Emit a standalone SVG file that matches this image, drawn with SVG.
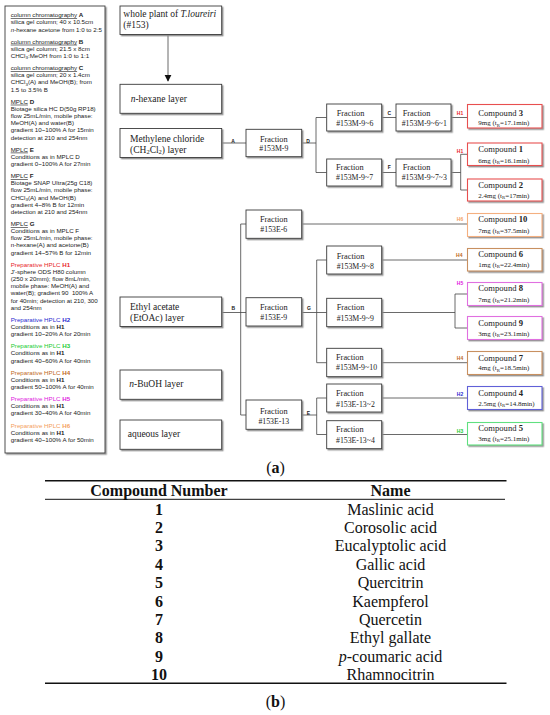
<svg xmlns="http://www.w3.org/2000/svg" width="550" height="715" viewBox="0 0 550 715">
<defs>
<filter id="sh" x="-10%" y="-10%" width="130%" height="140%">
<feDropShadow dx="1.4" dy="1.4" stdDeviation="0.5" flood-color="#8a8a8a" flood-opacity="0.9"/>
</filter>
<marker id="arr" viewBox="0 0 10 10" refX="9" refY="5" markerWidth="7" markerHeight="9" orient="auto" markerUnits="userSpaceOnUse">
<path d="M0,0 L10,5 L0,10 z" fill="#111"/>
</marker>
<style>
.box{fill:#fff;stroke:#3a3a3a;stroke-width:0.9;filter:url(#sh)}
.cb{fill:#fff;stroke-width:1.1;filter:url(#sh)}
.lay{font-family:'Liberation Serif',serif;font-size:9.5px;fill:#222}
.fr{font-family:'Liberation Serif',serif;font-size:8.3px;fill:#222}
.id{font-family:'Liberation Serif',serif;font-size:7.8px;fill:#222}
.c1{font-family:'Liberation Serif',serif;font-size:8.6px;fill:#222}
.c2{font-family:'Liberation Serif',serif;font-size:7px;fill:#222}
.lbl{font-family:'Liberation Sans',sans-serif;font-size:5px;font-weight:bold;text-anchor:middle;fill:#222}
.side{font-family:'Liberation Sans',sans-serif;font-size:6.2px;fill:#222}
.u{text-decoration:underline}
.b{font-weight:bold}
.con{stroke:#444;stroke-width:0.8;fill:none}
.tbl{font-family:'Liberation Serif',serif;font-size:16px;fill:#111;text-anchor:middle}
.red{fill:#e8262a}.blue{fill:#2b2bd0}.green{fill:#22cc33}.brown{fill:#c06a1e}.mag{fill:#e020e0}.org{fill:#f4a060}
</style>
</defs>
<rect width="550" height="715" fill="#fff"/>

<g id="legend">
<rect class="box" x="5" y="6" width="100" height="447"/>
<text class="side" x="10.7">
<tspan x="10.7" y="17.2"><tspan class="u">column chromatography</tspan> <tspan class="b">A</tspan></tspan>
<tspan x="10.7" y="24.4">silica gel column; 40 x 10.5cm</tspan>
<tspan x="10.7" y="31.5"><tspan font-style="italic">n</tspan>-hexane acetone from 1:0 to 2:5</tspan>
<tspan x="10.7" y="43.7"><tspan class="u">column chromatography</tspan> <tspan class="b">B</tspan></tspan>
<tspan x="10.7" y="50.8">silica gel column; 21.5 x 8cm</tspan>
<tspan x="10.7" y="58">CHCl<tspan font-size="4.4" dy="1.2">3</tspan><tspan dy="-1.2">:MeOH from 1:0 to 1:1</tspan></tspan>
<tspan x="10.7" y="70.1"><tspan class="u">column chromatography</tspan> <tspan class="b">C</tspan></tspan>
<tspan x="10.7" y="77.3">silica gel column; 20 x 1.4cm</tspan>
<tspan x="10.7" y="84.4">CHCl<tspan font-size="4.4" dy="1.2">3</tspan><tspan dy="-1.2">(A) and MeOH(B); from</tspan></tspan>
<tspan x="10.7" y="91.6">1.5 to 3.5% B</tspan>
<tspan x="10.7" y="103.7"><tspan class="u">MPLC</tspan> <tspan class="b">D</tspan></tspan>
<tspan x="10.7" y="110.9">Biotage silica HC D(50g RP18)</tspan>
<tspan x="10.7" y="118">flow 25mL/min, mobile phase:</tspan>
<tspan x="10.7" y="125.2">MeOH(A) and water(B)</tspan>
<tspan x="10.7" y="132.3">gradient 10~100% A for 15min</tspan>
<tspan x="10.7" y="139.5">detection at 210 and 254nm</tspan>
<tspan x="10.7" y="151.6"><tspan class="u">MPLC</tspan> <tspan class="b">E</tspan></tspan>
<tspan x="10.7" y="158.8">Conditions as in MPLC D</tspan>
<tspan x="10.7" y="165.9">gradient 0~100% A for 27min</tspan>
<tspan x="10.7" y="178"><tspan class="u">MPLC</tspan> <tspan class="b">F</tspan></tspan>
<tspan x="10.7" y="185.2">Biotage SNAP Ultra(25g C18)</tspan>
<tspan x="10.7" y="192.4">flow 25mL/min, mobile phase:</tspan>
<tspan x="10.7" y="199.5">CHCl<tspan font-size="4.4" dy="1.2">3</tspan><tspan dy="-1.2">(A) and MeOH(B)</tspan></tspan>
<tspan x="10.7" y="206.7">gradient 4~8% B for 12min</tspan>
<tspan x="10.7" y="213.8">detection at 210 and 254nm</tspan>
<tspan x="10.7" y="226"><tspan class="u">MPLC</tspan> <tspan class="b">G</tspan></tspan>
<tspan x="10.7" y="233.1">Conditions as in MPLC F</tspan>
<tspan x="10.7" y="240.3">flow 25mL/min, mobile phase:</tspan>
<tspan x="10.7" y="247.4">n-hexane(A) and acetone(B)</tspan>
<tspan x="10.7" y="254.6">gradient 14~57% B for 12min</tspan>
<tspan x="10.7" y="266.7" class="red">Preparative HPLC <tspan class="b">H1</tspan></tspan>
<tspan x="10.7" y="273.9">J'-sphere ODS H80 column</tspan>
<tspan x="10.7" y="281">(250 x 20mm); flow 8mL/min,</tspan>
<tspan x="10.7" y="288.2">mobile phase: MeOH(A) and</tspan>
<tspan x="10.7" y="295.3">water(B); gradient 90&#160;&#160;100% A</tspan>
<tspan x="10.7" y="302.5">for 40min; detection at 210, 300</tspan>
<tspan x="10.7" y="309.6">and 254nm</tspan>
<tspan x="10.7" y="321.8" class="blue">Preparative HPLC <tspan class="b">H2</tspan></tspan>
<tspan x="10.7" y="328.9">Conditions as in <tspan class="b">H1</tspan></tspan>
<tspan x="10.7" y="336.1">gradient 10~20% A for 20min</tspan>
<tspan x="10.7" y="348.2" class="green">Preparative HPLC <tspan class="b">H3</tspan></tspan>
<tspan x="10.7" y="355.4">Conditions as in <tspan class="b">H1</tspan></tspan>
<tspan x="10.7" y="362.5">gradient 40~60% A for 40min</tspan>
<tspan x="10.7" y="374.7" class="brown">Preparative HPLC <tspan class="b">H4</tspan></tspan>
<tspan x="10.7" y="381.8">Conditions as in <tspan class="b">H1</tspan></tspan>
<tspan x="10.7" y="389">gradient 50~100% A for 40min</tspan>
<tspan x="10.7" y="401.1" class="mag">Preparative HPLC <tspan class="b">H5</tspan></tspan>
<tspan x="10.7" y="408.3">Conditions as in <tspan class="b">H1</tspan></tspan>
<tspan x="10.7" y="415.4">gradient 30~40% A for 40min</tspan>
<tspan x="10.7" y="427.6" class="org">Preparative HPLC <tspan class="b">H6</tspan></tspan>
<tspan x="10.7" y="434.7">Conditions as in <tspan class="b">H1</tspan></tspan>
<tspan x="10.7" y="441.9">gradient 40~100% A for 50min</tspan>
</text>
</g>

<g id="connectors">
<line class="con" x1="168" y1="34.5" x2="168" y2="81" stroke="#111" marker-end="url(#arr)"/>
<path class="con" d="M221.7,143 H246 M301.7,143 H316 M316,117.5 V172.5 M316,117.5 H326.7 M316,172.5 H326.7"/>
<path class="con" d="M381.7,117.5 H396 M451,117.5 H467.5"/>
<path class="con" d="M381.7,172.5 H396 M451,172.5 H460.7 M460.7,154.3 V190 M460.7,154.3 H467.5 M460.7,190 H467.5"/>
<path class="con" d="M221.7,312.5 H246 M240.7,224 V415 M240.7,224 H246 M240.7,415 H246"/>
<path class="con" d="M301.7,224 H467.5"/>
<path class="con" d="M301.7,312.5 H316.7 M316.7,260 V362.7 M316.7,260 H326.7 M316.7,312.5 H326.7 M316.7,362.7 H326.7"/>
<path class="con" d="M381.7,260 H467.5 M381.7,312.5 H455 M455,294 V328 M455,294 H467.5 M455,328 H467.5 M381.7,362.7 H467.5"/>
<path class="con" d="M301.7,415 H316.7 M316.7,398 V434.5 M316.7,398 H326.7 M316.7,434.5 H326.7"/>
<path class="con" d="M381.7,398 H467.5 M381.7,434.5 H467.5"/>
<text class="lbl" x="233" y="143">A</text>
<text class="lbl" x="308" y="143">D</text>
<text class="lbl" x="389.3" y="115.3">C</text>
<text class="lbl" x="389.3" y="169.3">F</text>
<text class="lbl" x="233.3" y="309.5">B</text>
<text class="lbl" x="309" y="309.5">G</text>
<text class="lbl" x="308.3" y="414.5">E</text>
<text class="lbl red" x="460" y="115.3">H1</text>
<text class="lbl red" x="460" y="152.5">H1</text>
<text class="lbl org" x="460" y="221">H6</text>
<text class="lbl brown" x="459.3" y="257">H4</text>
<text class="lbl mag" x="460" y="285.3">H5</text>
<text class="lbl brown" x="460" y="359.7">H4</text>
<text class="lbl blue" x="460" y="396">H2</text>
<text class="lbl green" x="460" y="433">H3</text>
</g>

<g id="plant">
<rect class="box" x="120" y="6" width="101.7" height="28.5"/>
<text class="lay" x="123.3" y="17.3">whole plant of <tspan font-style="italic">T.loureiri</tspan></text>
<text class="lay" x="123.3" y="28.3">(#153)</text>
</g>
<g id="hexane">
<rect class="box" x="120" y="84.3" width="101.7" height="29"/>
<text class="lay" x="130.7" y="102"><tspan font-style="italic">n</tspan>-hexane layer</text>
</g>
<g id="ch2cl2">
<rect class="box" x="120" y="128.5" width="101.7" height="29"/>
<text class="lay" x="130" y="141.5">Methylene chloride</text>
<text class="lay" x="130" y="152.5">(CH<tspan font-size="6.5" dy="1.5">2</tspan><tspan dy="-1.5">Cl</tspan><tspan font-size="6.5" dy="1.5">2</tspan><tspan dy="-1.5">) layer</tspan></text>
</g>
<g id="etoac">
<rect class="box" x="120" y="297" width="101.7" height="29.5"/>
<text class="lay" x="130" y="310">Ethyl acetate</text>
<text class="lay" x="130" y="320.7">(EtOAc) layer</text>
</g>
<g id="buoh">
<rect class="box" x="120" y="370" width="101.7" height="29.3"/>
<text class="lay" x="129.3" y="386.7"><tspan font-style="italic">n</tspan>-BuOH layer</text>
</g>
<g id="aqueous">
<rect class="box" x="120" y="420" width="101.7" height="29.3"/>
<text class="lay" x="127.7" y="437">aqueous layer</text>
</g>

<g id="f153M-9">
<rect class="box" x="246" y="129.3" width="55.7" height="27.4"/>
<text class="fr" x="273.8" y="142.3" text-anchor="middle">Fraction</text>
<text class="id" x="273.8" y="151.3" text-anchor="middle">#153M-9</text>
</g>
<g id="f153E-6">
<rect class="box" x="246" y="210" width="55.7" height="28.3"/>
<text class="fr" x="273.8" y="222.3" text-anchor="middle">Fraction</text>
<text class="id" x="273.8" y="232.3" text-anchor="middle">#153E-6</text>
</g>
<g id="f153E-9">
<rect class="box" x="246" y="297.7" width="55.7" height="28.3"/>
<text class="fr" x="273.8" y="310.3" text-anchor="middle">Fraction</text>
<text class="id" x="273.8" y="320.3" text-anchor="middle">#153E-9</text>
</g>
<g id="f153E-13">
<rect class="box" x="246" y="400" width="55.7" height="29.3"/>
<text class="fr" x="273.8" y="413.7" text-anchor="middle">Fraction</text>
<text class="id" x="273.8" y="424" text-anchor="middle">#153E-13</text>
</g>

<g id="f153M-9-6">
<rect class="box" x="326.7" y="104" width="55" height="27"/>
<text class="fr" x="336.7" y="115.7">Fraction</text>
<text class="id" x="336.2" y="126.3">#153M-9~6</text>
</g>
<g id="f153M-9-6-1">
<rect class="box" x="396" y="104" width="55" height="27"/>
<text class="fr" x="402.7" y="115.7">Fraction</text>
<text class="id" x="401.7" y="126.3">#153M-9~6~1</text>
</g>
<g id="f153M-9-7">
<rect class="box" x="326.7" y="159" width="55" height="27"/>
<text class="fr" x="336" y="169.7">Fraction</text>
<text class="id" x="336" y="180.3">#153M-9~7</text>
</g>
<g id="f153M-9-7-3">
<rect class="box" x="396" y="159" width="55" height="27"/>
<text class="fr" x="402.7" y="169.7">Fraction</text>
<text class="id" x="401.7" y="180.3">#153M-9~7~3</text>
</g>
<g id="f153M-9-8">
<rect class="box" x="326.7" y="246" width="55" height="28"/>
<text class="fr" x="336.7" y="259">Fraction</text>
<text class="id" x="336.7" y="269">#153M-9~8</text>
</g>
<g id="f153M-9-9">
<rect class="box" x="326.7" y="298.3" width="55" height="28.4"/>
<text class="fr" x="336.7" y="310.3">Fraction</text>
<text class="id" x="336.7" y="321.3">#153M-9~9</text>
</g>
<g id="f153M-9-10">
<rect class="box" x="326.7" y="348.3" width="55" height="28.4"/>
<text class="fr" x="336" y="360.3">Fraction</text>
<text class="id" x="336" y="370.3">#153M-9~10</text>
</g>
<g id="f153E-13-2">
<rect class="box" x="326.7" y="384" width="55" height="28"/>
<text class="fr" x="336" y="396.3">Fraction</text>
<text class="id" x="336" y="407">#153E-13~2</text>
</g>
<g id="f153E-13-4">
<rect class="box" x="326.7" y="420.7" width="55" height="28"/>
<text class="fr" x="336" y="432.3">Fraction</text>
<text class="id" x="336" y="443">#153E-13~4</text>
</g>

<g id="cpd3">
<rect class="cb" x="467.5" y="104.5" width="74.5" height="23.5" stroke="#e85050"/>
<text class="c1" x="478.3" y="115.7">Compound <tspan class="b">3</tspan></text>
<text class="c2" x="478.3" y="125.2">9mg (t<tspan font-size="4.8" dy="1.3">R</tspan><tspan dy="-1.3">=17.1min)</tspan></text>
</g>
<g id="cpd1">
<rect class="cb" x="467.5" y="143" width="74.5" height="22.5" stroke="#e85050"/>
<text class="c1" x="478.3" y="152.3">Compound <tspan class="b">1</tspan></text>
<text class="c2" x="478.3" y="162.5">6mg (t<tspan font-size="4.8" dy="1.3">R</tspan><tspan dy="-1.3">=16.1min)</tspan></text>
</g>
<g id="cpd2">
<rect class="cb" x="467.5" y="179" width="74.5" height="22" stroke="#e85050"/>
<text class="c1" x="478.3" y="188">Compound <tspan class="b">2</tspan></text>
<text class="c2" x="478.3" y="197.8">2.4mg (t<tspan font-size="4.8" dy="1.3">R</tspan><tspan dy="-1.3">=17min)</tspan></text>
</g>
<g id="cpd10">
<rect class="cb" x="467.5" y="213.5" width="74.5" height="23" stroke="#f4b080"/>
<text class="c1" x="478.3" y="222.3">Compound <tspan class="b">10</tspan></text>
<text class="c2" x="478.3" y="232.5">7mg (t<tspan font-size="4.8" dy="1.3">R</tspan><tspan dy="-1.3">=37.5min)</tspan></text>
</g>
<g id="cpd6">
<rect class="cb" x="467.5" y="248.5" width="74.5" height="22.5" stroke="#c89060"/>
<text class="c1" x="478.3" y="257">Compound <tspan class="b">6</tspan></text>
<text class="c2" x="478.3" y="266.8">1mg (t<tspan font-size="4.8" dy="1.3">R</tspan><tspan dy="-1.3">=22.4min)</tspan></text>
</g>
<g id="cpd8">
<rect class="cb" x="467.5" y="282.5" width="74.5" height="23" stroke="#e070e0"/>
<text class="c1" x="478.3" y="291.3">Compound <tspan class="b">8</tspan></text>
<text class="c2" x="478.3" y="301.8">7mg (t<tspan font-size="4.8" dy="1.3">R</tspan><tspan dy="-1.3">=21.2min)</tspan></text>
</g>
<g id="cpd9">
<rect class="cb" x="467.5" y="316.5" width="74.5" height="23" stroke="#e070e0"/>
<text class="c1" x="478.3" y="325.7">Compound <tspan class="b">9</tspan></text>
<text class="c2" x="478.3" y="335.8">3mg (t<tspan font-size="4.8" dy="1.3">R</tspan><tspan dy="-1.3">=23.1min)</tspan></text>
</g>
<g id="cpd7">
<rect class="cb" x="467.5" y="351.5" width="74.5" height="23" stroke="#c89060"/>
<text class="c1" x="478.3" y="360.7">Compound <tspan class="b">7</tspan></text>
<text class="c2" x="478.3" y="370.2">4mg (t<tspan font-size="4.8" dy="1.3">R</tspan><tspan dy="-1.3">=18.5min)</tspan></text>
</g>
<g id="cpd4">
<rect class="cb" x="467.5" y="386.5" width="74.5" height="23" stroke="#6060d8"/>
<text class="c1" x="478.3" y="396.3">Compound <tspan class="b">4</tspan></text>
<text class="c2" x="478.3" y="405.8">2.5mg (t<tspan font-size="4.8" dy="1.3">R</tspan><tspan dy="-1.3">=14.8min)</tspan></text>
</g>
<g id="cpd5">
<rect class="cb" x="467.5" y="422.5" width="74.5" height="22.5" stroke="#60e080"/>
<text class="c1" x="478.3" y="431.3">Compound <tspan class="b">5</tspan></text>
<text class="c2" x="478.3" y="440.8">3mg (t<tspan font-size="4.8" dy="1.3">R</tspan><tspan dy="-1.3">=25.1min)</tspan></text>
</g>

<text class="tbl" x="275.5" y="473" font-size="11.5px">(<tspan class="b">a</tspan>)</text>

<g id="table">
<line x1="45" y1="480.7" x2="506.5" y2="480.7" stroke="#111" stroke-width="1.6"/>
<line x1="45" y1="499.3" x2="505" y2="499.3" stroke="#111" stroke-width="1"/>
<line x1="45" y1="683.3" x2="506.5" y2="683.3" stroke="#111" stroke-width="1.6"/>
<text class="tbl b" x="159" y="496.3">Compound Number</text>
<text class="tbl b" x="390.5" y="496.3">Name</text>
<text class="tbl b" x="159" y="514.5">1</text><text class="tbl" x="390.5" y="514.5">Maslinic acid</text>
<text class="tbl b" x="159" y="532.9">2</text><text class="tbl" x="390.5" y="532.9">Corosolic acid</text>
<text class="tbl b" x="159" y="551.3">3</text><text class="tbl" x="390.5" y="551.3">Eucalyptolic acid</text>
<text class="tbl b" x="159" y="569.7">4</text><text class="tbl" x="390.5" y="569.7">Gallic acid</text>
<text class="tbl b" x="159" y="588.1">5</text><text class="tbl" x="390.5" y="588.1">Quercitrin</text>
<text class="tbl b" x="159" y="606.5">6</text><text class="tbl" x="390.5" y="606.5">Kaempferol</text>
<text class="tbl b" x="159" y="624.9">7</text><text class="tbl" x="390.5" y="624.9">Quercetin</text>
<text class="tbl b" x="159" y="643.3">8</text><text class="tbl" x="390.5" y="643.3">Ethyl gallate</text>
<text class="tbl b" x="159" y="661.7">9</text><text class="tbl" x="390.5" y="661.7"><tspan font-style="italic">p</tspan>-coumaric acid</text>
<text class="tbl b" x="159" y="680.1">10</text><text class="tbl" x="390.5" y="680.1">Rhamnocitrin</text>
</g>
<text class="tbl" x="275.5" y="706.5" font-size="11.5px">(<tspan class="b">b</tspan>)</text>
</svg>
